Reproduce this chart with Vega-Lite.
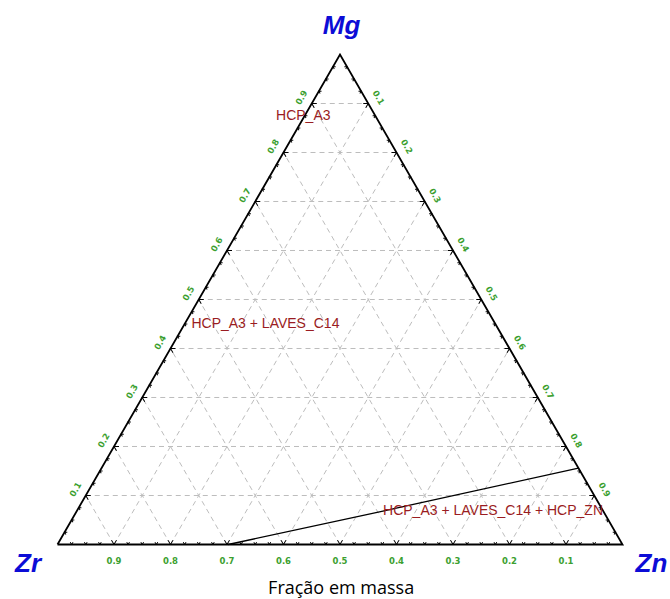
{
  "$schema": "https://vega.github.io/schema/vega-lite/v6.json",
  "width": 565,
  "height": 490,
  "autosize": {"type": "none"},
  "padding": {"left": 57.5, "top": 54.5, "right": 47.5, "bottom": 54.5},
  "background": "white",
  "config": {"view": {"stroke": null}},
  "datasets": {
    "t": [
      {"v":0.025,"c":0.975,"xl":0.0125,"xr":0.9875,"h":0.02165,"y0":0,"maj":0},
      {"v":0.05,"c":0.95,"xl":0.025,"xr":0.975,"h":0.0433,"y0":0,"maj":0},
      {"v":0.075,"c":0.925,"xl":0.0375,"xr":0.9625,"h":0.06495,"y0":0,"maj":0},
      {"v":0.1,"c":0.9,"xl":0.05,"xr":0.95,"h":0.0866,"y0":0,"maj":1},
      {"v":0.125,"c":0.875,"xl":0.0625,"xr":0.9375,"h":0.10825,"y0":0,"maj":0},
      {"v":0.15,"c":0.85,"xl":0.075,"xr":0.925,"h":0.1299,"y0":0,"maj":0},
      {"v":0.175,"c":0.825,"xl":0.0875,"xr":0.9125,"h":0.15155,"y0":0,"maj":0},
      {"v":0.2,"c":0.8,"xl":0.1,"xr":0.9,"h":0.17321,"y0":0,"maj":1},
      {"v":0.225,"c":0.775,"xl":0.1125,"xr":0.8875,"h":0.19486,"y0":0,"maj":0},
      {"v":0.25,"c":0.75,"xl":0.125,"xr":0.875,"h":0.21651,"y0":0,"maj":0},
      {"v":0.275,"c":0.725,"xl":0.1375,"xr":0.8625,"h":0.23816,"y0":0,"maj":0},
      {"v":0.3,"c":0.7,"xl":0.15,"xr":0.85,"h":0.25981,"y0":0,"maj":1},
      {"v":0.325,"c":0.675,"xl":0.1625,"xr":0.8375,"h":0.28146,"y0":0,"maj":0},
      {"v":0.35,"c":0.65,"xl":0.175,"xr":0.825,"h":0.30311,"y0":0,"maj":0},
      {"v":0.375,"c":0.625,"xl":0.1875,"xr":0.8125,"h":0.32476,"y0":0,"maj":0},
      {"v":0.4,"c":0.6,"xl":0.2,"xr":0.8,"h":0.34641,"y0":0,"maj":1},
      {"v":0.425,"c":0.575,"xl":0.2125,"xr":0.7875,"h":0.36806,"y0":0,"maj":0},
      {"v":0.45,"c":0.55,"xl":0.225,"xr":0.775,"h":0.38971,"y0":0,"maj":0},
      {"v":0.475,"c":0.525,"xl":0.2375,"xr":0.7625,"h":0.41136,"y0":0,"maj":0},
      {"v":0.5,"c":0.5,"xl":0.25,"xr":0.75,"h":0.43301,"y0":0,"maj":1},
      {"v":0.525,"c":0.475,"xl":0.2625,"xr":0.7375,"h":0.45466,"y0":0,"maj":0},
      {"v":0.55,"c":0.45,"xl":0.275,"xr":0.725,"h":0.47631,"y0":0,"maj":0},
      {"v":0.575,"c":0.425,"xl":0.2875,"xr":0.7125,"h":0.49796,"y0":0,"maj":0},
      {"v":0.6,"c":0.4,"xl":0.3,"xr":0.7,"h":0.51962,"y0":0,"maj":1},
      {"v":0.625,"c":0.375,"xl":0.3125,"xr":0.6875,"h":0.54127,"y0":0,"maj":0},
      {"v":0.65,"c":0.35,"xl":0.325,"xr":0.675,"h":0.56292,"y0":0,"maj":0},
      {"v":0.675,"c":0.325,"xl":0.3375,"xr":0.6625,"h":0.58457,"y0":0,"maj":0},
      {"v":0.7,"c":0.3,"xl":0.35,"xr":0.65,"h":0.60622,"y0":0,"maj":1},
      {"v":0.725,"c":0.275,"xl":0.3625,"xr":0.6375,"h":0.62787,"y0":0,"maj":0},
      {"v":0.75,"c":0.25,"xl":0.375,"xr":0.625,"h":0.64952,"y0":0,"maj":0},
      {"v":0.775,"c":0.225,"xl":0.3875,"xr":0.6125,"h":0.67117,"y0":0,"maj":0},
      {"v":0.8,"c":0.2,"xl":0.4,"xr":0.6,"h":0.69282,"y0":0,"maj":1},
      {"v":0.825,"c":0.175,"xl":0.4125,"xr":0.5875,"h":0.71447,"y0":0,"maj":0},
      {"v":0.85,"c":0.15,"xl":0.425,"xr":0.575,"h":0.73612,"y0":0,"maj":0},
      {"v":0.875,"c":0.125,"xl":0.4375,"xr":0.5625,"h":0.75777,"y0":0,"maj":0},
      {"v":0.9,"c":0.1,"xl":0.45,"xr":0.55,"h":0.77942,"y0":0,"maj":1},
      {"v":0.925,"c":0.075,"xl":0.4625,"xr":0.5375,"h":0.80107,"y0":0,"maj":0},
      {"v":0.95,"c":0.05,"xl":0.475,"xr":0.525,"h":0.82272,"y0":0,"maj":0},
      {"v":0.975,"c":0.025,"xl":0.4875,"xr":0.5125,"h":0.84437,"y0":0,"maj":0}
    ],
    "tri": [
      {"x":0,"y":0,"o":0},
      {"x":1,"y":0,"o":1},
      {"x":0.5,"y":0.8660254,"o":2},
      {"x":0,"y":0,"o":3}
    ],
    "bnd": [
      {"x":0.302,"y":0,"o":0},
      {"x":0.576,"y":0.0591,"o":1},
      {"x":0.922,"y":0.135,"o":2}
    ],
    "p": [
      {"t":"HCP_A3","x":0.435,"y":0.7495},
      {"t":"HCP_A3 + LAVES_C14","x":0.368,"y":0.3835},
      {"t":"HCP_A3 + LAVES_C14 + HCP_ZN","x":0.7708,"y":0.0521}
    ],
    "n": [
      {"t":"Mg","x":0.5027,"y":0.9031},
      {"t":"Zr","x":-0.0522,"y":-0.04855},
      {"t":"Zn","x":1.0513,"y":-0.04855}
    ],
    "ax": [
      {"t":"Fração em massa","x":0.502,"y":-0.0874}
    ]
  },
  "layer": [
    {
      "data": {"name": "t"},
      "transform": [{"filter": "datum.maj == 1"}],
      "mark": {"type": "rule", "color": "#bdbdbd", "strokeWidth": 1, "strokeDash": [5, 4]},
      "encoding": {
        "x": {"field": "xl", "type": "quantitative", "scale": {"domain": [0, 1], "nice": false, "zero": false}, "axis": null},
        "y": {"field": "h", "type": "quantitative", "scale": {"domain": [0, 0.8660254], "nice": false, "zero": false}, "axis": null},
        "x2": {"field": "xr"},
        "y2": {"field": "h"}
      }
    },
    {
      "data": {"name": "t"},
      "transform": [{"filter": "datum.maj == 1"}],
      "mark": {"type": "rule", "color": "#bdbdbd", "strokeWidth": 1, "strokeDash": [5, 4]},
      "encoding": {
        "x": {"field": "v", "type": "quantitative", "scale": {"domain": [0, 1], "nice": false, "zero": false}, "axis": null},
        "y": {"field": "y0", "type": "quantitative", "scale": {"domain": [0, 0.8660254], "nice": false, "zero": false}, "axis": null},
        "x2": {"field": "xl"},
        "y2": {"field": "h"}
      }
    },
    {
      "data": {"name": "t"},
      "transform": [{"filter": "datum.maj == 1"}],
      "mark": {"type": "rule", "color": "#bdbdbd", "strokeWidth": 1, "strokeDash": [5, 4]},
      "encoding": {
        "x": {"field": "c", "type": "quantitative", "scale": {"domain": [0, 1], "nice": false, "zero": false}, "axis": null},
        "y": {"field": "y0", "type": "quantitative", "scale": {"domain": [0, 0.8660254], "nice": false, "zero": false}, "axis": null},
        "x2": {"field": "xr"},
        "y2": {"field": "h"}
      }
    },
    {
      "data": {"name": "bnd"},
      "mark": {"type": "line", "color": "black", "strokeWidth": 1.3},
      "encoding": {
        "x": {"field": "x", "type": "quantitative", "scale": {"domain": [0, 1], "nice": false, "zero": false}, "axis": null},
        "y": {"field": "y", "type": "quantitative", "scale": {"domain": [0, 0.8660254], "nice": false, "zero": false}, "axis": null},
        "order": {"field": "o", "type": "quantitative"}
      }
    },
    {
      "data": {"name": "tri"},
      "mark": {"type": "line", "color": "black", "strokeWidth": 1.8},
      "encoding": {
        "x": {"field": "x", "type": "quantitative", "scale": {"domain": [0, 1], "nice": false, "zero": false}, "axis": null},
        "y": {"field": "y", "type": "quantitative", "scale": {"domain": [0, 0.8660254], "nice": false, "zero": false}, "axis": null},
        "order": {"field": "o", "type": "quantitative"}
      }
    },
    {
      "data": {"name": "t"},
      "mark": {"type": "point", "shape": "M-0.577,-1L0,0L0.577,-1", "filled": false, "stroke": "black", "strokeWidth": 1, "angle": 0, "opacity": 1},
      "encoding": {
        "x": {"field": "v", "type": "quantitative", "scale": {"domain": [0, 1], "nice": false, "zero": false}, "axis": null},
        "y": {"field": "y0", "type": "quantitative", "scale": {"domain": [0, 0.8660254], "nice": false, "zero": false}, "axis": null},
        "size": {"field": "maj", "type": "quantitative", "scale": {"domain": [0, 1], "range": [22, 75]}, "legend": null}
      }
    },
    {
      "data": {"name": "t"},
      "mark": {"type": "point", "shape": "M-0.577,-1L0,0L0.577,-1", "filled": false, "stroke": "black", "strokeWidth": 1, "angle": 120, "opacity": 1},
      "encoding": {
        "x": {"field": "xl", "type": "quantitative", "scale": {"domain": [0, 1], "nice": false, "zero": false}, "axis": null},
        "y": {"field": "h", "type": "quantitative", "scale": {"domain": [0, 0.8660254], "nice": false, "zero": false}, "axis": null},
        "size": {"field": "maj", "type": "quantitative", "scale": {"domain": [0, 1], "range": [22, 75]}, "legend": null}
      }
    },
    {
      "data": {"name": "t"},
      "mark": {"type": "point", "shape": "M-0.577,-1L0,0L0.577,-1", "filled": false, "stroke": "black", "strokeWidth": 1, "angle": 240, "opacity": 1},
      "encoding": {
        "x": {"field": "xr", "type": "quantitative", "scale": {"domain": [0, 1], "nice": false, "zero": false}, "axis": null},
        "y": {"field": "h", "type": "quantitative", "scale": {"domain": [0, 0.8660254], "nice": false, "zero": false}, "axis": null},
        "size": {"field": "maj", "type": "quantitative", "scale": {"domain": [0, 1], "range": [22, 75]}, "legend": null}
      }
    },
    {
      "data": {"name": "t"},
      "transform": [{"filter": "datum.maj == 1"}],
      "mark": {"type": "text", "font": "DejaVu Sans", "fontSize": 8.5, "fontWeight": "bold", "color": "#3c9f30", "align": "center", "baseline": "middle", "dy": 16},
      "encoding": {
        "x": {"field": "v", "type": "quantitative", "scale": {"domain": [0, 1], "nice": false, "zero": false}, "axis": null},
        "y": {"field": "y0", "type": "quantitative", "scale": {"domain": [0, 0.8660254], "nice": false, "zero": false}, "axis": null},
        "text": {"field": "c", "type": "quantitative", "format": ".1f"}
      }
    },
    {
      "data": {"name": "t"},
      "transform": [{"filter": "datum.maj == 1"}],
      "mark": {"type": "text", "font": "DejaVu Sans", "fontSize": 8.5, "fontWeight": "bold", "color": "#3c9f30", "align": "center", "baseline": "middle", "angle": 300, "dy": -12},
      "encoding": {
        "x": {"field": "xl", "type": "quantitative", "scale": {"domain": [0, 1], "nice": false, "zero": false}, "axis": null},
        "y": {"field": "h", "type": "quantitative", "scale": {"domain": [0, 0.8660254], "nice": false, "zero": false}, "axis": null},
        "text": {"field": "v", "type": "quantitative", "format": ".1f"}
      }
    },
    {
      "data": {"name": "t"},
      "transform": [{"filter": "datum.maj == 1"}],
      "mark": {"type": "text", "font": "DejaVu Sans", "fontSize": 8.5, "fontWeight": "bold", "color": "#3c9f30", "align": "center", "baseline": "middle", "angle": 60, "dy": -12},
      "encoding": {
        "x": {"field": "xr", "type": "quantitative", "scale": {"domain": [0, 1], "nice": false, "zero": false}, "axis": null},
        "y": {"field": "h", "type": "quantitative", "scale": {"domain": [0, 0.8660254], "nice": false, "zero": false}, "axis": null},
        "text": {"field": "c", "type": "quantitative", "format": ".1f"}
      }
    },
    {
      "data": {"name": "p"},
      "mark": {"type": "text", "font": "Liberation Sans", "fontSize": 14, "color": "#9a1c22", "align": "center", "baseline": "alphabetic"},
      "encoding": {
        "x": {"field": "x", "type": "quantitative", "scale": {"domain": [0, 1], "nice": false, "zero": false}, "axis": null},
        "y": {"field": "y", "type": "quantitative", "scale": {"domain": [0, 0.8660254], "nice": false, "zero": false}, "axis": null},
        "text": {"field": "t", "type": "nominal"}
      }
    },
    {
      "data": {"name": "n"},
      "mark": {"type": "text", "font": "Liberation Sans", "fontSize": 26, "fontWeight": "bold", "fontStyle": "italic", "color": "#0c0cd6", "align": "center", "baseline": "alphabetic"},
      "encoding": {
        "x": {"field": "x", "type": "quantitative", "scale": {"domain": [0, 1], "nice": false, "zero": false}, "axis": null},
        "y": {"field": "y", "type": "quantitative", "scale": {"domain": [0, 0.8660254], "nice": false, "zero": false}, "axis": null},
        "text": {"field": "t", "type": "nominal"}
      }
    },
    {
      "data": {"name": "ax"},
      "mark": {"type": "text", "font": "Open Sans", "fontSize": 18, "color": "black", "align": "center", "baseline": "alphabetic"},
      "encoding": {
        "x": {"field": "x", "type": "quantitative", "scale": {"domain": [0, 1], "nice": false, "zero": false}, "axis": null},
        "y": {"field": "y", "type": "quantitative", "scale": {"domain": [0, 0.8660254], "nice": false, "zero": false}, "axis": null},
        "text": {"field": "t", "type": "nominal"}
      }
    }
  ]
}
